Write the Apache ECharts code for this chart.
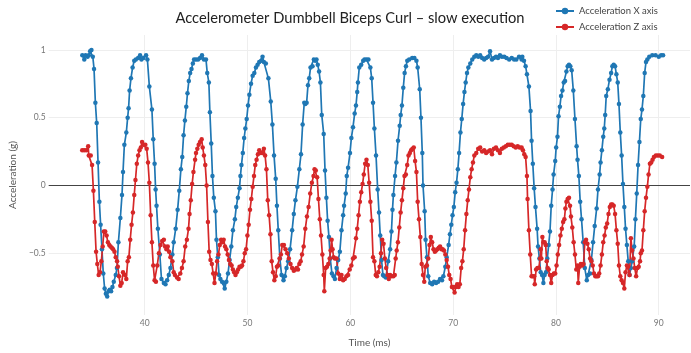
<!DOCTYPE html>
<html><head><meta charset="utf-8">
<script src="https://cdn.jsdelivr.net/npm/echarts@6.0.0/dist/echarts.min.js"></script>
<style>html,body{margin:0;padding:0;background:#fff}#c{width:691px;height:353px}</style>
</head><body><div id="c"></div><script>
const chartTitle = 'Accelerometer Dumbbell Biceps Curl – slow execution';
const seriesNames = ['Acceleration X axis', 'Acceleration Z axis'];
const xTicks = [40, 50, 60, 70, 80, 90];
const yTicks = [-0.5, 0, 0.5, 1];

const timeX = [
33.93,34.12,34.25,34.44,34.56,34.69,34.82,34.95,35.07,35.2,35.33,35.46,35.59,35.71,35.84,35.97,36.1,36.22,36.35,36.48,36.6,36.73,36.86,36.99,37.18,37.3,37.44,37.63,37.79,37.89,38.02,38.21,38.34,38.43,38.53,38.66,38.82,38.98,39.14,39.36,39.55,39.68,39.87,40.13,40.26,40.45,40.7,40.83,40.96,41.06,41.15,41.28,41.47,41.63,41.86,42.02,42.18,42.34,42.5,42.69,42.82,43.01,43.2,43.36,
43.52,43.65,43.78,43.91,44.04,44.16,44.29,44.42,44.55,44.68,44.8,44.99,45.19,45.38,45.57,45.76,45.96,46.08,46.24,46.34,46.47,46.59,46.72,46.88,46.98,47.11,47.23,47.36,47.52,47.68,47.78,47.94,48.1,48.26,48.42,48.58,48.77,48.9,49.06,49.22,49.31,49.41,49.54,49.67,49.79,49.92,50.05,50.18,50.34,50.5,50.66,50.82,50.98,51.14,51.33,51.46,51.59,51.78,52.03,52.26,52.42,52.58,52.74,52.86,52.99,53.15,53.31,53.5,53.63,53.79,53.95,54.14,54.34,54.5,54.66,54.85,55.04,55.2,55.36,55.52,
55.62,55.75,55.88,56.0,56.13,56.32,56.45,56.58,56.71,56.83,56.96,57.09,57.22,57.41,57.54,57.67,57.79,57.92,58.05,58.21,58.37,58.5,58.66,58.82,58.98,59.14,59.3,59.39,59.55,59.65,59.78,59.97,60.1,60.26,60.42,60.55,60.67,60.74,60.87,61.06,61.25,61.38,61.57,61.76,61.95,62.08,62.21,62.34,62.5,62.66,62.79,62.91,63.04,63.17,63.3,63.46,63.68,63.87,64.0,64.1,64.19,64.35,64.48,64.64,64.8,64.9,65.02,65.15,65.28,65.41,65.54,65.73,66.02,
66.23,66.43,66.55,66.75,66.87,67.0,67.07,67.23,67.32,67.45,67.58,67.77,67.96,68.15,68.34,68.54,68.73,68.92,69.05,69.24,69.37,69.56,69.69,69.82,69.94,70.07,70.2,70.33,70.46,70.58,70.71,70.84,70.97,71.1,71.22,71.35,71.48,71.67,71.86,72.06,72.25,72.44,72.63,72.82,73.02,73.21,73.4,73.59,73.78,73.97,74.17,74.36,74.55,74.74,74.97,75.19,75.45,75.7,75.93,76.15,76.41,76.66,
76.73,76.89,77.05,77.18,77.37,77.53,77.63,77.75,77.88,78.01,78.17,78.26,78.39,78.52,78.65,78.78,78.9,79.03,79.16,79.29,79.42,79.54,79.67,79.77,79.93,80.02,80.15,80.25,80.38,80.5,80.63,80.76,80.89,81.02,81.14,81.27,81.4,81.53,81.69,81.85,82.01,82.1,82.23,82.36,82.49,82.65,82.81,83.0,83.13,83.32,83.45,83.61,83.77,83.96,84.09,84.25,84.34,84.47,84.6,84.7,84.79,84.89,85.05,85.21,85.37,85.49,85.62,85.75,85.88,86.01,86.13,86.26,86.39,86.52,86.65,86.77,86.9,87.03,87.16,87.29,87.41,87.61,87.73,87.86,87.99,88.12,88.25,88.37,88.5,88.63,88.76,88.89,89.08,89.37,89.69,90.0,90.23,90.42
];
const accX = [
0.96,0.93,0.96,0.95,0.96,0.99,1.0,0.95,0.86,0.61,0.46,0.17,-0.12,-0.29,-0.47,-0.65,-0.76,-0.8,-0.82,-0.78,-0.77,-0.78,-0.75,-0.71,-0.66,-0.61,-0.42,-0.24,-0.07,0.1,0.3,0.39,0.5,0.57,0.7,0.79,0.87,0.92,0.93,0.94,0.96,0.93,0.94,0.96,0.93,0.73,0.56,0.34,0.16,-0.03,-0.15,-0.32,-0.51,-0.69,-0.72,-0.73,-0.7,-0.66,-0.61,-0.51,-0.42,-0.32,-0.18,-0.04,
0.12,0.21,0.37,0.48,0.58,0.68,0.77,0.83,0.86,0.9,0.93,0.93,0.93,0.94,0.96,0.93,0.93,0.83,0.76,0.54,0.31,0.07,-0.09,-0.19,-0.4,-0.53,-0.66,-0.69,-0.71,-0.72,-0.76,-0.71,-0.65,-0.55,-0.45,-0.33,-0.25,-0.16,-0.09,-0.02,0.07,0.15,0.24,0.35,0.42,0.49,0.59,0.67,0.75,0.81,0.83,0.87,0.89,0.91,0.92,0.95,0.91,0.9,0.79,0.62,0.45,0.22,0.05,-0.15,-0.33,-0.54,-0.66,-0.7,-0.67,-0.61,-0.56,-0.47,-0.33,-0.21,-0.11,-0.01,0.12,0.23,0.45,0.61,
0.6,0.61,0.74,0.79,0.87,0.88,0.93,0.92,0.93,0.89,0.84,0.76,0.52,0.38,0.11,-0.09,-0.26,-0.38,-0.54,-0.65,-0.67,-0.69,-0.61,-0.55,-0.49,-0.33,-0.22,-0.15,-0.06,0.07,0.13,0.24,0.35,0.43,0.53,0.59,0.69,0.76,0.87,0.89,0.92,0.93,0.93,0.93,0.87,0.79,0.61,0.42,0.22,-0.03,-0.2,-0.37,-0.55,-0.66,-0.67,-0.68,-0.56,-0.47,-0.34,-0.18,-0.07,0.07,0.17,0.33,0.44,0.52,0.59,0.72,0.83,0.88,0.92,0.93,0.94,
0.94,0.92,0.87,0.71,0.5,0.24,0.0,-0.19,-0.4,-0.53,-0.67,-0.72,-0.73,-0.71,-0.72,-0.71,-0.69,-0.7,-0.67,-0.6,-0.53,-0.44,-0.36,-0.29,-0.22,-0.16,-0.05,0.02,0.12,0.24,0.39,0.49,0.6,0.69,0.76,0.83,0.87,0.9,0.93,0.95,0.96,0.95,0.96,0.94,0.93,0.94,0.95,0.99,0.93,0.94,0.95,0.94,0.96,0.95,0.95,0.94,0.93,0.94,0.93,0.93,0.95,0.93,
0.95,0.92,0.88,0.82,0.73,0.55,0.33,0.16,-0.02,-0.16,-0.32,-0.45,-0.54,-0.64,-0.66,-0.72,-0.66,-0.64,-0.54,-0.44,-0.34,-0.15,-0.03,0.08,0.18,0.28,0.36,0.51,0.58,0.66,0.7,0.76,0.77,0.84,0.88,0.89,0.88,0.85,0.7,0.49,0.29,0.19,0.07,-0.12,-0.25,-0.42,-0.61,-0.7,-0.66,-0.65,-0.55,-0.42,-0.3,-0.17,-0.03,0.08,0.17,0.26,0.36,0.42,0.52,0.66,0.71,0.78,0.83,0.88,0.89,0.88,0.82,0.76,0.6,0.39,0.22,0.01,-0.16,-0.32,-0.44,-0.56,-0.66,-0.61,-0.56,-0.45,-0.25,-0.06,0.15,0.32,0.49,0.56,0.66,0.83,0.91,0.93,0.95,0.96,0.96,0.95,0.96,0.96
];

const timeZ = [
33.92,34.11,34.31,34.5,34.56,34.75,34.88,35.01,35.14,35.27,35.39,35.52,35.65,35.78,35.91,36.03,36.16,36.29,36.42,36.55,36.67,36.8,36.93,37.06,37.18,37.31,37.38,37.5,37.63,37.76,37.89,38.08,38.21,38.34,38.46,38.59,38.72,38.85,38.98,39.1,39.23,39.36,39.49,39.62,39.74,39.87,40.06,40.19,40.32,40.45,40.58,40.7,40.83,40.96,41.09,41.22,41.38,41.54,41.7,41.86,41.98,42.11,42.24,42.37,42.5,42.69,42.82,42.94,43.14,
43.3,43.46,43.62,43.78,43.94,44.1,44.26,44.36,44.48,44.61,44.74,44.9,44.99,45.12,45.25,45.38,45.54,45.64,45.76,45.89,46.02,46.15,46.27,46.4,46.53,46.66,46.79,46.91,47.04,47.17,47.3,47.43,47.55,47.68,47.81,47.94,48.07,48.19,48.32,48.45,48.58,48.7,48.83,48.96,49.09,49.22,49.35,49.47,49.6,49.73,49.86,49.99,50.11,50.24,50.37,50.5,50.63,50.75,50.88,51.01,51.14,51.3,51.46,51.59,51.71,51.84,51.97,52.1,52.23,52.35,52.48,52.61,52.74,52.86,52.99,53.12,53.25,53.38,53.54,53.7,53.86,54.02,54.18,54.34,54.5,54.66,54.78,54.91,55.04,55.17,55.3,55.46,55.62,
55.78,55.94,56.1,56.26,56.42,56.52,56.64,56.77,56.9,57.03,57.15,57.28,57.41,57.47,57.6,57.73,57.86,57.99,58.08,58.18,58.27,58.37,58.5,58.66,58.82,58.98,59.14,59.3,59.46,59.62,59.78,59.94,60.1,60.26,60.42,60.55,60.67,60.8,60.93,61.06,61.19,61.31,61.44,61.57,61.7,61.83,61.95,62.08,62.21,62.34,62.47,62.59,62.72,62.85,62.98,63.1,63.23,63.36,63.49,63.62,63.74,63.87,64.0,64.19,64.32,
64.41,64.51,64.63,64.76,64.89,65.02,65.15,65.27,65.4,65.53,65.66,65.79,65.91,66.04,66.17,66.3,66.43,66.55,66.68,66.81,66.94,67.07,67.19,67.29,67.45,67.58,67.7,67.83,67.96,68.09,68.22,68.34,68.47,68.6,68.73,68.86,68.98,69.11,69.24,69.37,69.5,69.62,69.75,69.88,70.01,70.14,70.26,70.39,70.52,70.65,70.78,70.9,71.03,71.16,71.29,71.42,71.54,71.67,71.8,71.93,72.06,72.25,72.44,72.63,72.82,73.02,73.21,73.4,73.59,73.78,73.97,74.17,74.36,74.55,74.74,74.93,75.13,75.32,75.51,75.7,75.89,76.09,76.28,76.47,76.66,
76.79,76.92,77.05,77.18,77.24,77.37,77.5,77.63,77.75,77.88,77.94,78.07,78.2,78.33,78.46,78.52,78.58,78.68,78.78,78.9,79.0,79.1,79.19,79.29,79.42,79.54,79.67,79.8,79.93,80.06,80.18,80.31,80.44,80.57,80.7,80.82,80.92,81.02,81.14,81.27,81.37,81.46,81.59,81.72,81.85,81.98,82.1,82.17,82.3,82.42,82.55,82.68,82.81,82.93,83.06,83.19,83.32,83.45,83.58,83.7,83.83,83.96,84.09,84.21,84.34,84.47,84.6,84.73,84.85,84.98,85.11,85.24,85.37,85.49,85.62,85.75,85.88,86.01,86.13,86.26,86.39,86.52,86.65,86.77,86.9,87.03,87.16,87.29,87.41,87.54,87.67,87.8,87.93,88.05,88.18,88.25,88.37,88.5,88.63,88.76,88.89,89.01,89.14,89.27,89.4,89.53,89.72,89.91,90.1,90.33
];
const accZ = [
0.26,0.26,0.26,0.29,0.22,0.22,0.15,-0.04,-0.27,-0.49,-0.58,-0.66,-0.64,-0.56,-0.45,-0.34,-0.34,-0.37,-0.42,-0.44,-0.45,-0.46,-0.47,-0.49,-0.53,-0.56,-0.6,-0.67,-0.74,-0.72,-0.64,-0.66,-0.69,-0.56,-0.53,-0.4,-0.29,-0.2,-0.07,0.04,0.16,0.22,0.26,0.28,0.32,0.3,0.3,0.27,0.17,0.02,-0.22,-0.42,-0.59,-0.7,-0.71,-0.59,-0.5,-0.44,-0.41,-0.4,-0.45,-0.47,-0.45,-0.49,-0.53,-0.56,-0.64,-0.66,-0.68,
-0.69,-0.65,-0.61,-0.56,-0.45,-0.4,-0.32,-0.21,-0.11,0.01,0.1,0.19,0.24,0.27,0.3,0.32,0.34,0.28,0.22,0.15,0.0,-0.27,-0.49,-0.55,-0.58,-0.65,-0.72,-0.65,-0.56,-0.51,-0.44,-0.4,-0.42,-0.4,-0.45,-0.47,-0.51,-0.55,-0.58,-0.59,-0.62,-0.64,-0.66,-0.64,-0.62,-0.6,-0.6,-0.59,-0.56,-0.5,-0.47,-0.37,-0.29,-0.18,-0.1,-0.01,0.07,0.15,0.19,0.23,0.26,0.24,0.24,0.27,0.22,0.12,-0.11,-0.22,-0.36,-0.56,-0.64,-0.7,-0.67,-0.6,-0.59,-0.54,-0.51,-0.44,-0.44,-0.47,-0.5,-0.54,-0.58,-0.61,-0.63,-0.62,-0.61,-0.62,-0.58,-0.56,-0.51,-0.45,-0.32,
-0.23,-0.16,-0.06,0.02,0.07,0.12,0.11,0.06,-0.1,-0.25,-0.37,-0.51,-0.66,-0.78,-0.61,-0.6,-0.58,-0.54,-0.48,-0.4,-0.47,-0.53,-0.54,-0.54,-0.65,-0.69,-0.66,-0.7,-0.69,-0.67,-0.66,-0.62,-0.59,-0.54,-0.53,-0.39,-0.32,-0.22,-0.12,-0.05,0.01,0.08,0.16,0.19,0.15,0.02,-0.12,-0.26,-0.53,-0.56,-0.66,-0.67,-0.64,-0.6,-0.5,-0.4,-0.43,-0.54,-0.61,-0.66,-0.69,-0.66,-0.67,-0.67,-0.66,
-0.54,-0.48,-0.42,-0.31,-0.2,-0.11,-0.02,0.07,0.08,0.15,0.22,0.24,0.26,0.27,0.28,0.18,0.1,-0.12,-0.25,-0.38,-0.58,-0.66,-0.71,-0.6,-0.59,-0.54,-0.44,-0.38,-0.42,-0.47,-0.49,-0.48,-0.47,-0.46,-0.45,-0.47,-0.47,-0.48,-0.51,-0.55,-0.6,-0.66,-0.69,-0.75,-0.75,-0.79,-0.75,-0.73,-0.75,-0.73,-0.61,-0.56,-0.47,-0.33,-0.21,-0.11,-0.03,0.06,0.12,0.17,0.22,0.24,0.27,0.28,0.25,0.26,0.24,0.25,0.26,0.23,0.27,0.28,0.26,0.24,0.27,0.28,0.29,0.3,0.3,0.3,0.29,0.28,0.29,0.28,0.28,
0.26,0.23,0.21,0.07,-0.1,-0.33,-0.51,-0.67,-0.67,-0.67,-0.73,-0.62,-0.61,-0.61,-0.54,-0.47,-0.54,-0.38,-0.42,-0.42,-0.44,-0.56,-0.61,-0.62,-0.66,-0.72,-0.66,-0.65,-0.65,-0.59,-0.51,-0.44,-0.37,-0.32,-0.27,-0.25,-0.17,-0.12,-0.1,-0.09,-0.15,-0.23,-0.31,-0.42,-0.51,-0.62,-0.59,-0.72,-0.6,-0.58,-0.59,-0.58,-0.42,-0.4,-0.43,-0.47,-0.54,-0.56,-0.59,-0.65,-0.67,-0.67,-0.67,-0.65,-0.59,-0.51,-0.42,-0.37,-0.31,-0.28,-0.21,-0.16,-0.14,-0.14,-0.15,-0.21,-0.33,-0.43,-0.59,-0.67,-0.7,-0.72,-0.76,-0.64,-0.59,-0.6,-0.66,-0.39,-0.48,-0.54,-0.61,-0.67,-0.61,-0.6,-0.56,-0.5,-0.48,-0.33,-0.19,-0.09,-0.01,0.08,0.16,0.17,0.19,0.21,0.22,0.22,0.22,0.21
];

function pairs(t, v) {
  const n = Math.min(t.length, v.length);
  const out = [];
  for (let i = 0; i < n; i++) out.push([t[i], v[i]]);
  return out;
}

const FONT = 'Lato, "Open Sans", sans-serif';
const chart = echarts.init(document.getElementById('c'), null, { renderer: 'canvas' });
const lineSeries = (name, color, data, extra) => Object.assign({
  name, type: 'line', data, symbol: 'circle', symbolSize: 4.5, showSymbol: true, showAllSymbol: true,
  lineStyle: { color, width: 1.7 }, itemStyle: { color, borderWidth: 0 },
  emphasis: { disabled: true }, animation: false
}, extra || {});

chart.setOption({
  animation: false,
  backgroundColor: '#ffffff',
  textStyle: { fontFamily: FONT },
  title: {
    text: chartTitle, left: 350, textAlign: 'center', top: 11, padding: 0,
    textStyle: { fontFamily: FONT, fontSize: 14.7, fontWeight: 'normal', color: '#222' }
  },
  legend: {
    orient: 'vertical', left: 555, top: 5, padding: 0, itemWidth: 18, itemHeight: 8, itemGap: 4,
    data: seriesNames,
    textStyle: { fontFamily: FONT, fontSize: 9.5, color: '#444', lineHeight: 12 }
  },
  grid: { left: 40, right: 1, top: 35, bottom: 36, containLabel: false },
  xAxis: {
    type: 'value', min: 30.66, max: 93.04,
    name: 'Time (ms)', nameLocation: 'middle', nameGap: 23,
    nameTextStyle: { fontFamily: FONT, fontSize: 10, color: '#555' },
    axisLine: { show: false }, axisTick: { show: false, customValues: xTicks },
    axisLabel: { customValues: xTicks, margin: 4, fontSize: 8.5, color: '#777', fontFamily: FONT },
    splitLine: { show: true, lineStyle: { color: '#eeeeee', width: 1 } }
  },
  yAxis: {
    type: 'value', min: -0.956, max: 1.11,
    name: 'Acceleration (g)', nameLocation: 'middle', nameGap: 24,
    nameTextStyle: { fontFamily: FONT, fontSize: 10, color: '#555' },
    axisLine: { show: false }, axisTick: { show: false, customValues: yTicks },
    axisLabel: { customValues: yTicks, margin: 3, fontSize: 8.5, color: '#777', fontFamily: FONT,
      formatter: v => (v < 0 ? '\u2212' + Math.abs(v) : String(v)) },
    splitLine: { show: true, lineStyle: { color: '#eeeeee', width: 1 } }
  },
  series: [
    lineSeries(seriesNames[0], '#1f77b4', pairs(timeX, accX), {
      markLine: { silent: true, symbol: 'none', z: 1, label: { show: false },
        lineStyle: { color: '#444', width: 1, type: 'solid' }, data: [{ yAxis: 0 }] }
    }),
    lineSeries(seriesNames[1], '#d62728', pairs(timeZ, accZ))
  ]
});
</script></body></html>
